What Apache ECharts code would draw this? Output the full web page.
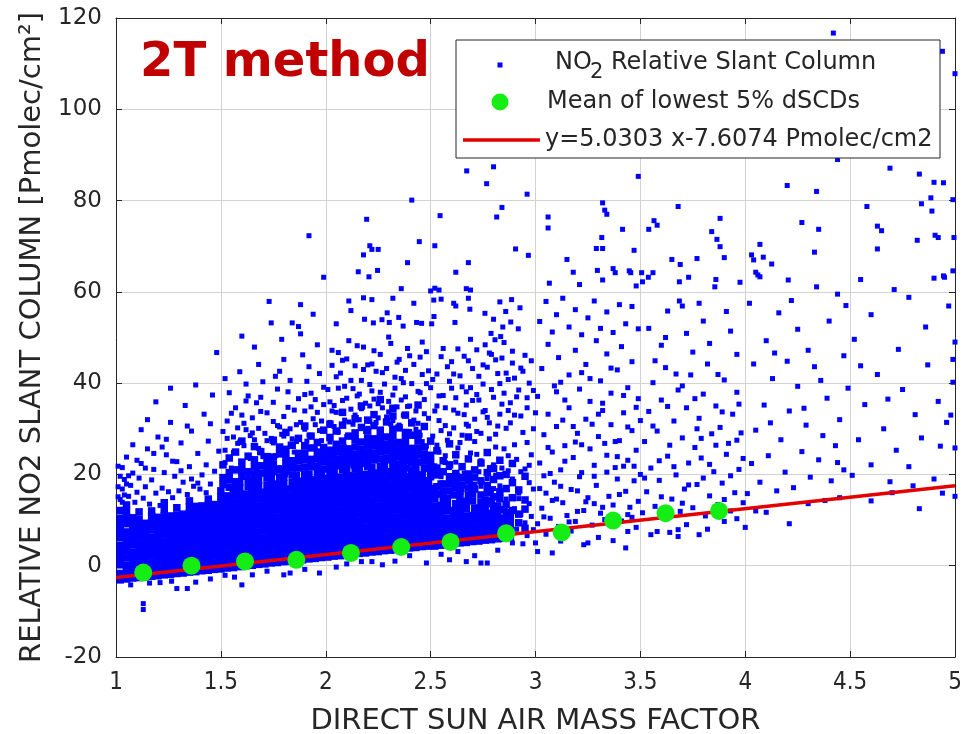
<!DOCTYPE html>
<html>
<head>
<meta charset="utf-8">
<script src="https://cdn.jsdelivr.net/npm/echarts@6/dist/echarts.min.js"></script>
<style>html,body{margin:0;padding:0;background:#fff}#c{width:963px;height:734px}</style>
</head>
<body>
<div id="c"></div>
<script>
// ---------- axis ticks ----------
const xTicks = [1, 1.5, 2, 2.5, 3, 3.5, 4, 4.5, 5];
const yTicks = [-20, 0, 20, 40, 60, 80, 100, 120];

// ---------- legend / series names ----------
const nameScatter = 'NO2 Relative Slant Column';
const nameMean = 'Mean of lowest 5% dSCDs';
const nameFit = 'y=5.0303 x-7.6074 Pmolec/cm2';

// ---------- mean of lowest 5% dSCDs (green) ----------
const meanAmf = [1.13, 1.36, 1.615, 1.86, 2.12, 2.36, 2.595, 2.86, 3.125, 3.37, 3.62, 3.875];
const meanScd = [-1.5, 0.0, 0.95, 1.3, 2.8, 4.1, 5.2, 7.1, 7.3, 9.9, 11.5, 12.0];

// ---------- fitted line end points (red) ----------
const fitAmf = [1, 5];
const fitScd = [-2.577, 17.544];

// ---------- dSCD scatter: densely packed core (solid blue area) ----------
const denseCore1 = [
[1.02,-3.1],[1.02,-1.7],[1.02,0.2],[1.02,1.6],[1.02,3.1],[1.02,4.4],[1.02,6.1],[1.02,7.5],[1.02,9.0],[1.02,10.4],[1.02,12.1],
[1.05,-2.9],[1.05,-1.4],[1.05,0.1],[1.05,1.7],[1.05,3.2],[1.05,4.7],[1.05,6.0],[1.05,7.4],[1.05,9.2],[1.05,10.6],[1.05,11.9],[1.05,13.3],
[1.08,-2.7],[1.08,-1.2],[1.08,0.3],[1.08,1.8],[1.08,3.0],[1.08,4.6],[1.08,6.2],[1.08,7.7],[1.08,9.1],[1.08,10.5],
[1.11,-2.6],[1.11,-1.0],[1.11,0.4],[1.11,1.9],[1.11,3.3],[1.11,4.8],[1.11,6.3],[1.11,7.5],[1.11,8.9],[1.11,10.2],[1.11,11.8],
[1.14,-2.4],[1.14,-0.9],[1.14,0.5],[1.14,2.0],[1.14,3.4],[1.14,4.9],[1.14,6.4],[1.14,7.8],[1.14,9.3],
[1.17,-2.3],[1.17,-0.8],[1.17,0.6],[1.17,2.1],[1.17,3.5],[1.17,5.0],[1.17,6.3],[1.17,7.9],[1.17,9.4],[1.17,10.8],[1.17,12.0],
[1.2,-2.2],[1.2,-0.7],[1.2,0.8],[1.2,2.2],[1.2,3.6],[1.2,5.1],[1.2,6.6],[1.2,8.0],[1.2,9.2],[1.2,10.6],
[1.23,-2.0],[1.23,-0.5],[1.23,0.9],[1.23,2.4],[1.23,3.8],[1.23,5.2],[1.23,6.7],[1.23,8.2],[1.23,9.6],[1.23,11.0],[1.23,12.4],[1.23,13.8],
[1.26,-1.9],[1.26,-0.4],[1.26,1.0],[1.26,2.5],[1.26,3.9],[1.26,5.3],[1.26,6.8],[1.26,8.1],[1.26,9.5],[1.26,10.9],
[1.29,-1.7],[1.29,-0.3],[1.29,1.2],[1.29,2.6],[1.29,4.0],[1.29,5.5],[1.29,7.0],[1.29,8.4],[1.29,9.8],[1.29,11.1],[1.29,12.7],
[1.32,-1.6],[1.32,-0.1],[1.32,1.3],[1.32,2.8],[1.32,4.2],[1.32,5.6],[1.32,7.1],[1.32,8.5],[1.32,9.9],[1.32,11.3],
[1.35,-1.4],[1.35,0.0],[1.35,1.5],[1.35,2.9],[1.35,4.3],[1.35,5.8],[1.35,7.2],[1.35,8.6],[1.35,10.0],[1.35,11.5],[1.35,12.9],[1.35,14.2],
[1.38,-1.3],[1.38,0.2],[1.38,1.6],[1.38,3.0],[1.38,4.5],[1.38,5.9],[1.38,7.3],[1.38,8.8],[1.38,10.2],[1.38,11.6],[1.38,13.0],
[1.41,-1.1],[1.41,0.3],[1.41,1.8],[1.41,3.2],[1.41,4.6],[1.41,6.1],[1.41,7.5],[1.41,8.9],[1.41,10.3],[1.41,11.8],[1.41,13.1],
[1.44,-1.0],[1.44,0.5],[1.44,1.9],[1.44,3.3],[1.44,4.8],[1.44,6.2],[1.44,7.6],[1.44,9.0],[1.44,10.5],[1.44,11.9],[1.44,13.3],[1.44,14.6],
[1.47,-0.8],[1.47,0.6],[1.47,2.1],[1.47,3.5],[1.47,4.9],[1.47,6.4],[1.47,7.8],[1.47,9.2],[1.47,10.6],[1.47,12.1],[1.47,13.4]
];
const denseCore2 = [
[1.5,-0.7],[1.5,0.8],[1.5,2.2],[1.5,3.7],[1.5,5.1],[1.5,6.6],[1.5,8.0],[1.5,9.5],[1.5,10.9],[1.5,12.3],[1.5,13.8],[1.5,15.2],[1.5,16.4],
[1.53,-0.5],[1.53,1.0],[1.53,2.4],[1.53,3.8],[1.53,5.3],[1.53,6.7],[1.53,8.1],[1.53,9.6],[1.53,11.0],[1.53,12.5],[1.53,13.9],[1.53,15.3],
[1.56,-0.4],[1.56,1.1],[1.56,2.5],[1.56,4.0],[1.56,5.4],[1.56,6.9],[1.56,8.3],[1.56,9.7],[1.56,11.2],[1.56,12.6],[1.56,14.0],[1.56,15.5],[1.56,16.9],
[1.59,-0.2],[1.59,1.2],[1.59,2.7],[1.59,4.1],[1.59,5.5],[1.59,7.0],[1.59,8.4],[1.59,9.9],[1.59,11.3],[1.59,12.7],[1.59,14.1],[1.59,15.6],[1.59,17.0],[1.59,18.3],
[1.62,0.0],[1.62,1.4],[1.62,2.8],[1.62,4.3],[1.62,5.7],[1.62,7.1],[1.62,8.6],[1.62,10.0],[1.62,11.4],[1.62,12.9],[1.62,14.3],[1.62,15.7],
[1.65,0.1],[1.65,1.5],[1.65,3.0],[1.65,4.4],[1.65,5.8],[1.65,7.3],[1.65,8.7],[1.65,10.1],[1.65,11.6],[1.65,13.0],[1.65,14.5],[1.65,15.9],[1.65,17.2],
[1.68,0.3],[1.68,1.7],[1.68,3.1],[1.68,4.6],[1.68,6.0],[1.68,7.4],[1.68,8.9],[1.68,10.3],[1.68,11.7],[1.68,13.1],[1.68,14.6],[1.68,16.0],[1.68,17.5],[1.68,18.8],
[1.71,0.4],[1.71,1.8],[1.71,3.3],[1.71,4.7],[1.71,6.1],[1.71,7.6],[1.71,9.0],[1.71,10.4],[1.71,11.9],[1.71,13.3],[1.71,14.7],[1.71,16.1],
[1.74,0.6],[1.74,2.0],[1.74,3.4],[1.74,4.9],[1.74,6.3],[1.74,7.7],[1.74,9.2],[1.74,10.6],[1.74,12.0],[1.74,13.4],[1.74,14.9],[1.74,16.3],[1.74,17.7],[1.74,19.1],
[1.77,0.7],[1.77,2.1],[1.77,3.6],[1.77,5.0],[1.77,6.4],[1.77,7.9],[1.77,9.3],[1.77,10.7],[1.77,12.2],[1.77,13.6],[1.77,15.0],[1.77,16.5],[1.77,17.9],
[1.8,0.9],[1.8,2.3],[1.8,3.7],[1.8,5.2],[1.8,6.6],[1.8,8.0],[1.8,9.5],[1.8,10.9],[1.8,12.3],[1.8,13.7],[1.8,15.2],[1.8,16.6],[1.8,18.0],[1.8,19.4],
[1.83,1.0],[1.83,2.4],[1.83,3.9],[1.83,5.3],[1.83,6.7],[1.83,8.2],[1.83,9.6],[1.83,11.0],[1.83,12.5],[1.83,13.9],[1.83,15.3],[1.83,16.8],
[1.86,1.2],[1.86,2.6],[1.86,4.0],[1.86,5.4],[1.86,6.9],[1.86,8.3],[1.86,9.8],[1.86,11.2],[1.86,12.6],[1.86,14.0],[1.86,15.5],[1.86,16.9],[1.86,18.3],[1.86,19.8],
[1.89,1.3],[1.89,2.7],[1.89,4.2],[1.89,5.6],[1.89,7.0],[1.89,8.5],[1.89,9.9],[1.89,11.3],[1.89,12.8],[1.89,14.2],[1.89,15.6],[1.89,17.0],[1.89,18.5],
[1.92,1.5],[1.92,2.9],[1.92,4.3],[1.92,5.7],[1.92,7.2],[1.92,8.6],[1.92,10.0],[1.92,11.5],[1.92,12.9],[1.92,14.3],[1.92,15.8],[1.92,17.2],[1.92,18.6],[1.92,20.1],
[1.95,1.6],[1.95,3.0],[1.95,4.5],[1.95,5.9],[1.95,7.3],[1.95,8.8],[1.95,10.2],[1.95,11.6],[1.95,13.1],[1.95,14.5],[1.95,15.9],[1.95,17.4],[1.95,18.8],
[1.98,1.8],[1.98,3.2],[1.98,4.6],[1.98,6.0],[1.98,7.5],[1.98,8.9],[1.98,10.3],[1.98,11.8],[1.98,13.2],[1.98,14.6],[1.98,16.1],[1.98,17.5],[1.98,18.9],[1.98,20.4]
];
const denseCore3 = [
[2.01,1.9],[2.01,3.3],[2.01,4.8],[2.01,6.2],[2.01,7.6],[2.01,9.1],[2.01,10.5],[2.01,11.9],[2.01,13.4],[2.01,14.8],[2.01,16.2],[2.01,17.7],[2.01,19.1],
[2.04,2.1],[2.04,3.5],[2.04,4.9],[2.04,6.4],[2.04,7.8],[2.04,9.2],[2.04,10.7],[2.04,12.1],[2.04,13.5],[2.04,15.0],[2.04,16.4],[2.04,17.8],[2.04,19.3],[2.04,20.6],[2.04,22.3],
[2.07,2.2],[2.07,3.6],[2.07,5.1],[2.07,6.5],[2.07,7.9],[2.07,9.4],[2.07,10.8],[2.07,12.2],[2.07,13.7],[2.07,15.1],[2.07,16.5],[2.07,18.0],[2.07,19.4],
[2.1,2.4],[2.1,3.8],[2.1,5.2],[2.1,6.7],[2.1,8.1],[2.1,9.5],[2.1,11.0],[2.1,12.4],[2.1,13.8],[2.1,15.3],[2.1,16.7],[2.1,18.1],[2.1,19.6],[2.1,21.0],[2.1,23.6],
[2.13,2.5],[2.13,3.9],[2.13,5.4],[2.13,6.8],[2.13,8.2],[2.13,9.7],[2.13,11.1],[2.13,12.5],[2.13,14.0],[2.13,15.4],[2.13,16.8],[2.13,18.3],[2.13,19.7],
[2.16,2.7],[2.16,4.1],[2.16,5.5],[2.16,7.0],[2.16,8.4],[2.16,9.8],[2.16,11.3],[2.16,12.7],[2.16,14.1],[2.16,15.6],[2.16,17.0],[2.16,18.4],[2.16,19.9],[2.16,21.3],[2.16,22.8],
[2.19,2.8],[2.19,4.2],[2.19,5.7],[2.19,7.1],[2.19,8.5],[2.19,10.0],[2.19,11.4],[2.19,12.8],[2.19,14.3],[2.19,15.7],[2.19,17.1],[2.19,18.6],[2.19,20.0],
[2.22,3.0],[2.22,4.4],[2.22,5.8],[2.22,7.3],[2.22,8.7],[2.22,10.1],[2.22,11.6],[2.22,13.0],[2.22,14.4],[2.22,15.9],[2.22,17.3],[2.22,18.7],[2.22,20.2],[2.22,21.6],[2.22,24.1],
[2.25,3.1],[2.25,4.5],[2.25,6.0],[2.25,7.4],[2.25,8.8],[2.25,10.3],[2.25,11.7],[2.25,13.1],[2.25,14.6],[2.25,16.0],[2.25,17.4],[2.25,18.9],[2.25,20.3],
[2.28,3.3],[2.28,4.7],[2.28,6.1],[2.28,7.6],[2.28,9.0],[2.28,10.4],[2.28,11.9],[2.28,13.3],[2.28,14.7],[2.28,16.2],[2.28,17.6],[2.28,19.0],[2.28,20.5],[2.28,21.9],
[2.31,3.4],[2.31,4.8],[2.31,6.3],[2.31,7.7],[2.31,9.1],[2.31,10.6],[2.31,12.0],[2.31,13.4],[2.31,14.9],[2.31,16.3],[2.31,17.7],[2.31,19.2],[2.31,20.6],[2.31,23.2],
[2.34,3.6],[2.34,5.0],[2.34,6.4],[2.34,7.9],[2.34,9.3],[2.34,10.7],[2.34,12.2],[2.34,13.6],[2.34,15.0],[2.34,16.5],[2.34,17.9],[2.34,19.3],[2.34,20.8],
[2.37,3.7],[2.37,5.1],[2.37,6.6],[2.37,8.0],[2.37,9.4],[2.37,10.9],[2.37,12.3],[2.37,13.7],[2.37,15.2],[2.37,16.6],[2.37,18.0],[2.37,19.5],[2.37,20.9],[2.37,22.4],
[2.4,3.9],[2.4,5.3],[2.4,6.7],[2.4,8.2],[2.4,9.6],[2.4,11.0],[2.4,12.5],[2.4,13.9],[2.4,15.3],[2.4,16.8],[2.4,18.2],[2.4,19.6],
[2.43,4.0],[2.43,5.4],[2.43,6.9],[2.43,8.3],[2.43,9.7],[2.43,11.2],[2.43,12.6],[2.43,14.0],[2.43,15.5],[2.43,16.9],[2.43,18.3],[2.43,19.8],[2.43,21.2],
[2.46,4.2],[2.46,5.6],[2.46,7.0],[2.46,8.5],[2.46,9.9],[2.46,11.3],[2.46,12.8],[2.46,14.2],[2.46,15.6],[2.46,17.1],[2.46,18.5],[2.46,19.9],
[2.49,4.3],[2.49,5.7],[2.49,7.2],[2.49,8.6],[2.49,10.0],[2.49,11.5],[2.49,12.9],[2.49,14.3],[2.49,15.8],[2.49,17.2],[2.49,18.6]
];
const denseCore4 = [
[2.52,4.3],[2.52,5.8],[2.52,7.2],[2.52,8.6],[2.52,10.1],[2.52,11.5],[2.52,13.0],[2.52,14.6],[2.52,16.0],
[2.55,4.5],[2.55,6.0],[2.55,7.4],[2.55,8.9],[2.55,10.3],[2.55,11.8],[2.55,13.2],[2.55,17.9],
[2.58,4.6],[2.58,6.1],[2.58,7.5],[2.58,9.0],[2.58,10.4],[2.58,12.0],[2.58,13.3],[2.58,14.8],
[2.61,4.8],[2.61,6.3],[2.61,7.7],[2.61,9.2],[2.61,10.6],[2.61,12.1],[2.61,15.5],
[2.64,5.0],[2.64,6.4],[2.64,7.8],[2.64,9.3],[2.64,10.8],[2.64,12.2],[2.64,13.7],[2.64,15.1],[2.64,16.4],
[2.67,5.1],[2.67,6.6],[2.67,8.0],[2.67,9.4],[2.67,10.9],[2.67,12.5],[2.67,13.9],
[2.7,5.3],[2.7,6.7],[2.7,8.1],[2.7,9.6],[2.7,11.0],[2.7,14.2],[2.7,15.8],
[2.73,5.4],[2.73,6.9],[2.73,8.3],[2.73,9.8],[2.73,11.2],[2.73,12.6],
[2.76,5.6],[2.76,7.0],[2.76,8.4],[2.76,9.9],[2.76,11.4],[2.76,12.9],[2.76,14.4],
[2.79,5.7],[2.79,7.2],[2.79,8.6],[2.79,10.1],[2.79,11.5],[2.79,13.6],
[2.82,5.9],[2.82,7.3],[2.82,8.8],[2.82,10.2],[2.82,11.7],[2.82,13.1],
[2.85,6.0],[2.85,7.5],[2.85,8.9],[2.85,10.4],[2.85,12.3],
[2.88,6.2],[2.88,7.6],[2.88,9.1],[2.88,10.5]
];
// ---------- dSCD scatter: busy band above the core (with holes) ----------
const denseUpper = [
[1.51,17.8],[1.51,19.3],[1.51,22.1],[1.54,17.2],[1.54,18.8],[1.54,20.4],[1.54,23.6],[1.57,18.4],[1.57,21.0],[1.57,24.9],
[1.6,19.6],[1.6,21.1],[1.6,22.7],[1.6,27.3],[1.63,17.3],[1.63,18.9],[1.63,20.6],[1.63,24.0],[1.66,18.6],[1.66,20.1],
[1.66,21.7],[1.66,23.2],[1.66,26.1],[1.69,20.3],[1.69,21.9],[1.69,25.0],[1.72,17.6],[1.72,19.2],[1.72,20.8],[1.72,22.4],
[1.72,23.9],[1.75,20.6],[1.75,22.2],[1.75,23.8],[1.75,27.5],[1.78,19.4],[1.78,21.0],[1.78,24.5],[1.78,26.0],[1.81,20.8],
[1.81,22.4],[1.81,23.9],[1.81,25.5],[1.81,29.2],[1.84,18.3],[1.84,19.9],[1.84,21.5],[1.84,23.0],[1.84,26.4],[1.87,21.4],
[1.87,23.0],[1.87,24.6],[1.87,27.9],[1.9,20.0],[1.9,21.6],[1.9,23.2],[1.9,24.7],[1.9,26.3],[1.9,30.6],[1.93,21.7],
[1.93,23.3],[1.93,25.8],[1.93,28.4],[1.96,20.3],[1.96,21.8],[1.96,23.4],[1.96,24.9],[1.96,27.0],[1.99,21.2],[1.99,22.8],
[1.99,24.3],[1.99,25.9],[1.99,29.7],
[2.02,20.6],[2.02,22.2],[2.02,23.8],[2.02,25.3],[2.02,28.1],[2.02,31.0],[2.05,21.9],[2.05,23.4],[2.05,25.0],[2.05,26.6],
[2.05,29.5],[2.08,21.0],[2.08,22.6],[2.08,24.1],[2.08,25.7],[2.08,27.3],[2.08,30.8],[2.08,33.6],[2.11,22.5],[2.11,24.1],
[2.11,25.6],[2.11,28.4],[2.14,21.3],[2.14,22.9],[2.14,24.4],[2.14,26.0],[2.14,27.6],[2.14,29.1],[2.14,32.2],[2.17,22.4],
[2.17,24.0],[2.17,25.5],[2.17,27.1],[2.17,30.3],[2.17,35.0],[2.2,21.7],[2.2,23.3],[2.2,24.8],[2.2,26.4],[2.2,27.9],
[2.2,29.5],[2.2,31.9],[2.23,23.2],[2.23,24.7],[2.23,26.3],[2.23,27.8],[2.23,30.7],[2.23,33.1],[2.26,21.8],[2.26,23.4],
[2.26,25.0],[2.26,26.6],[2.26,28.1],[2.26,29.7],[2.26,36.4],[2.29,23.5],[2.29,25.1],[2.29,26.6],[2.29,28.2],[2.29,31.5],
[2.32,22.1],[2.32,23.7],[2.32,25.2],[2.32,26.8],[2.32,28.4],[2.32,29.9],[2.32,32.8],[2.32,34.5],[2.35,22.3],[2.35,23.9],
[2.35,25.4],[2.35,27.0],[2.35,30.2],[2.38,21.4],[2.38,23.0],[2.38,24.6],[2.38,26.1],[2.38,27.7],[2.38,29.2],[2.38,33.0],
[2.41,21.0],[2.41,22.6],[2.41,24.1],[2.41,25.7],[2.41,28.6],[2.41,31.3],[2.44,22.7],[2.44,24.3],[2.44,25.8],[2.44,27.4],
[2.44,29.0],[2.44,35.2],[2.47,21.3],[2.47,22.9],[2.47,24.4],[2.47,26.0],[2.47,30.5],[2.5,19.5],[2.5,21.1],[2.5,22.6],
[2.5,24.2],[2.5,27.3],
[2.53,15.7],[2.53,17.3],[2.53,19.9],[2.53,21.4],[2.53,25.2],[2.56,14.7],[2.56,16.3],[2.56,17.9],[2.56,20.6],[2.56,23.0],
[2.59,16.4],[2.59,18.0],[2.59,19.5],[2.59,22.1],[2.59,26.7],[2.62,13.6],[2.62,17.1],[2.62,18.7],[2.62,20.2],[2.62,24.3],
[2.65,14.1],[2.65,17.7],[2.65,19.3],[2.65,21.7],[2.68,15.4],[2.68,17.0],[2.68,18.6],[2.68,20.1],[2.68,23.4],[2.68,28.2],
[2.71,12.6],[2.71,16.8],[2.71,19.4],[2.71,21.0],[2.74,13.9],[2.74,15.5],[2.74,18.6],[2.74,22.5],[2.77,14.2],[2.77,16.0],
[2.77,17.6],[2.77,20.4],[2.77,24.8],[2.8,12.3],[2.8,15.1],[2.8,18.9],[2.8,21.3],[2.83,14.7],[2.83,16.2],[2.83,19.7],
[2.83,23.1],[2.86,11.6],[2.86,13.4],[2.86,16.9],[2.86,20.0],[2.89,12.1],[2.89,14.9],[2.89,18.2],[2.89,22.4],[2.92,9.4],
[2.92,11.3],[2.92,16.6],[2.95,8.2],[2.95,12.4],[2.95,14.4],[2.95,19.6]
];

// ---------- dSCD scatter: individual points ----------
const belowFit = [
[1.13,-8.3],[1.13,-9.6],[1.29,-5.0],[1.34,-5.0],[1.21,-3.7],[1.265,-3.4],[1.07,-4.2],[1.16,-3.8],[1.38,-3.6],[1.45,-2.9],
[1.52,-2.1],[1.565,-2.5],[1.6,-4.2],[1.65,-2.0],[1.72,-1.2],[1.8,-2.0],[1.83,-1.6],[1.9,-0.8],[1.97,-1.6],
[2.05,-0.3],[2.1,0.4],[2.17,0.9],[2.22,0.9],[2.27,0.2],[2.33,1.0],[2.4,2.2],[2.48,0.6],
[2.59,1.3],[2.67,0.9],[2.74,0.6],[2.77,0.6],[2.55,2.5],[2.63,3.1],[2.71,2.2],[2.82,3.4],[2.89,5.0],[2.94,4.8]
];
const spread1 = [
[1.02,14.5],[1.03,16.8],[1.04,18.9],[1.03,21.5],[1.05,23.8],[1.06,15.2],[1.07,17.6],[1.08,20.3],[1.09,13.9],[1.1,16.1],
[1.11,19.2],[1.12,22.4],[1.13,14.8],[1.14,17.3],[1.15,25.6],[1.16,13.5],[1.17,18.8],[1.18,21.1],[1.19,15.9],[1.2,28.2],
[1.21,13.2],[1.22,17.0],[1.23,20.4],[1.24,24.3],[1.25,16.2],[1.26,31.4],[1.27,14.9],[1.28,19.6],[1.29,22.8],[1.3,16.4],
[1.31,26.9],[1.32,18.3],[1.33,35.1],[1.34,15.6],[1.35,21.7],[1.36,29.5],[1.37,17.4],[1.38,39.6],[1.39,24.6],[1.4,16.8],
[1.41,19.9],[1.42,33.2],[1.43,22.1],[1.44,27.3],[1.45,17.9],[1.46,37.4],[1.47,20.7],[1.48,46.7],[1.49,25.1],[1.26,38.9],
[1.15,32.0],[1.08,26.5],[1.12,29.8],[1.19,35.9],[1.24,27.7],[1.34,30.6],[1.52,41.0],[1.45,31.1],
[1.1,23.1],[1.18,24.6],[1.27,22.9],[1.36,19.0],[1.43,16.0],[1.06,19.7],[1.14,21.4],[1.22,26.0],[1.31,20.8],[1.39,18.1],
[1.01,15.1],[1.01,17.3],[1.02,19.6],[1.01,21.8],[1.04,15.5],[1.05,17.9],[1.03,13.9]
];
const spread2 = [
[1.51,18.1],[1.52,22.6],[1.53,27.9],[1.54,19.7],[1.55,33.4],[1.56,24.8],[1.57,20.9],[1.58,30.2],[1.59,42.5],[1.6,21.6],
[1.61,26.3],[1.62,36.1],[1.63,19.4],[1.64,23.5],[1.65,29.1],[1.66,47.9],[1.67,21.2],[1.68,25.7],[1.69,33.8],[1.7,40.3],
[1.71,20.2],[1.72,27.4],[1.73,57.9],[1.74,53.2],[1.74,22.8],[1.75,31.6],[1.76,24.1],[1.77,38.7],[1.78,21.5],[1.79,28.8],
[1.8,45.2],[1.81,23.3],[1.82,34.7],[1.83,26.6],[1.84,53.2],[1.85,21.9],[1.86,30.9],[1.87,52.4],[1.88,57.2],[1.88,50.8],
[1.89,24.4],[1.9,37.5],[1.91,27.3],[1.92,72.3],[1.92,43.6],[1.93,22.7],[1.94,32.2],[1.95,25.9],[1.96,48.4],[1.97,29.6],
[1.98,23.6],[1.99,63.2],[1.99,39.1],
[1.52,25.3],[1.55,21.4],[1.58,26.8],[1.61,31.2],[1.64,28.5],[1.67,35.7],[1.7,23.9],[1.72,19.8],[1.75,26.9],[1.78,30.4],
[1.81,19.9],[1.84,27.8],[1.87,23.1],[1.9,29.9],[1.93,34.8],[1.96,21.8],[1.98,31.7],[1.54,37.9],[1.62,39.8],[1.68,44.1],
[1.76,41.5],[1.83,40.6],[1.89,46.2],[1.95,36.4],[1.6,50.3],[1.79,49.6],[1.94,55.1],[1.57,17.8],[1.66,19.0],[1.73,21.0],
[1.79,20.8],[1.85,24.9],[1.91,21.6],[1.97,22.9],
[1.51,29.4],[1.53,31.7],[1.56,28.2],[1.57,34.6],[1.59,27.1],[1.6,33.0],[1.62,29.8],[1.63,37.2],[1.65,32.4],[1.66,27.6],
[1.68,30.1],[1.69,36.9],[1.71,29.0],[1.72,33.5],[1.74,27.9],[1.75,35.8],[1.77,30.7],[1.78,42.6],[1.8,28.4],[1.8,32.7],
[1.82,38.1],[1.83,30.0],[1.85,34.1],[1.86,27.2],[1.87,36.6],[1.88,31.4],[1.9,33.9],[1.91,40.4],[1.92,28.6],[1.93,37.8],
[1.95,30.9],[1.96,33.6],[1.97,42.1],[1.98,27.4],[1.99,35.3]
];
const spread3 = [
[2.05,53.0],[2.11,58.0],[2.12,55.9],[2.155,64.4],[2.18,68.1],[2.18,58.7],[2.185,54.0],[2.195,75.9],[2.206,63.3],[2.21,70.1],
[2.22,69.3],[2.22,58.3],[2.227,53.2],[2.247,64.7],[2.25,69.3],[2.268,53.9],[2.293,55.4],[2.303,53.3],[2.32,58.6],[2.348,54.4],
[2.36,60.7],[2.369,52.5],[2.39,66.4],[2.41,80.1],[2.42,57.5],[2.433,53.3],[2.446,71.0],[2.457,53.1],
[2.01,22.6],[2.02,27.1],[2.03,33.9],[2.04,24.2],[2.05,41.4],[2.06,29.3],[2.07,21.8],[2.08,36.2],[2.09,26.0],[2.1,45.3],
[2.11,31.5],[2.12,23.4],[2.13,38.8],[2.14,28.1],[2.15,48.2],[2.16,25.2],[2.17,34.4],[2.18,43.0],[2.19,22.5],[2.2,30.1],
[2.21,39.7],[2.22,26.7],[2.23,47.1],[2.24,24.0],[2.25,35.5],[2.26,29.0],[2.27,42.3],[2.28,23.1],[2.29,32.6],[2.3,50.1],
[2.31,27.5],[2.32,37.4],[2.33,24.9],[2.34,44.6],[2.35,30.8],[2.36,22.9],[2.37,40.1],[2.38,27.9],[2.39,34.9],[2.4,46.0],
[2.41,25.6],[2.42,31.9],[2.43,23.8],[2.44,38.2],[2.45,28.6],[2.46,49.0],[2.47,33.3],[2.48,26.2],[2.49,42.7],
[2.02,35.9],[2.04,30.5],[2.06,46.7],[2.08,24.6],[2.1,28.3],[2.12,40.6],[2.14,33.0],[2.16,37.6],[2.18,27.0],[2.2,23.6],
[2.22,44.2],[2.24,31.4],[2.26,38.0],[2.28,26.1],[2.3,33.7],[2.32,29.5],[2.34,25.4],[2.36,36.3],[2.38,42.8],[2.4,29.4],
[2.42,24.4],[2.44,35.1],[2.46,27.2],[2.48,39.9],[2.03,43.9],[2.09,39.3],[2.15,26.9],[2.21,35.0],[2.27,22.0],[2.33,41.3],
[2.39,23.0],[2.45,45.7],[2.06,25.0],[2.13,21.8],[2.19,29.4],[2.25,25.9],[2.31,31.0],[2.37,26.8],[2.43,29.9],[2.47,21.4],
[2.01,38.6],[2.02,31.4],[2.03,47.2],[2.04,35.1],[2.05,33.6],[2.06,38.9],[2.07,42.2],[2.08,45.0],[2.09,31.9],[2.1,36.7],
[2.11,49.3],[2.12,34.3],[2.13,31.0],[2.14,43.8],[2.15,37.2],[2.16,32.0],[2.17,40.6],[2.18,47.9],[2.19,35.6],[2.2,44.0],
[2.21,31.6],[2.22,38.3],[2.23,36.5],[2.24,42.6],[2.25,32.4],[2.26,46.3],[2.27,34.6],[2.28,39.8],[2.29,43.2],[2.3,36.0],
[2.31,48.7],[2.32,31.8],[2.33,38.9],[2.34,34.8],[2.35,45.2],[2.36,41.0],[2.37,33.0],[2.38,37.0],[2.39,47.6],[2.4,35.0],
[2.41,39.9],[2.42,44.1],[2.43,33.9],[2.44,31.2],[2.45,37.9],[2.46,41.9],[2.47,36.4],[2.48,46.9],[2.49,32.3],[2.5,39.0]
];
const spread4 = [
[2.516,54.6],[2.515,58.2],[2.52,70.1],[2.52,60.8],[2.54,60.4],[2.55,58.4],[2.545,76.7],[2.505,53.0],[2.5,60.2],[2.61,57.5],
[2.616,53.3],[2.62,64.3],[2.62,56.9],[2.672,86.5],[2.67,60.7],[2.68,66.4],[2.68,58.6],[2.687,56.2],[2.69,60.4],[2.759,55.3],
[2.767,83.7],[2.788,50.9],[2.8,87.4],[2.8,54.0],[2.807,49.5],[2.815,76.4],[2.83,57.8],[2.834,50.2],[2.84,78.5],[2.844,52.3],
[2.858,55.7],[2.882,53.4],[2.886,58.3],[2.905,69.4],[2.918,51.9],[2.926,56.5],[2.96,81.4],[2.966,68.0],
[2.51,17.2],[2.52,21.9],[2.53,26.4],[2.54,31.8],[2.55,19.5],[2.56,37.3],[2.57,24.1],[2.58,43.6],[2.59,28.9],[2.6,18.4],
[2.61,34.1],[2.62,22.7],[2.63,47.5],[2.64,27.0],[2.65,39.2],[2.66,20.3],[2.67,31.0],[2.68,44.9],[2.69,24.7],[2.7,36.2],
[2.71,17.9],[2.72,29.4],[2.73,41.5],[2.74,23.0],[2.75,33.7],[2.76,48.4],[2.77,19.1],[2.78,27.8],[2.79,38.6],[2.8,22.1],
[2.81,45.1],[2.82,30.6],[2.83,17.5],[2.84,35.4],[2.85,25.6],[2.86,42.2],[2.87,20.8],[2.88,31.3],[2.89,47.0],[2.9,26.5],
[2.91,37.0],[2.92,15.9],[2.93,43.3],[2.94,29.2],[2.95,21.2],[2.96,34.6],[2.97,40.0],[2.98,24.3],[2.99,30.0],
[2.51,40.8],[2.53,35.0],[2.55,45.8],[2.57,30.7],[2.59,21.5],[2.61,42.0],[2.63,25.8],[2.65,16.6],[2.67,38.1],[2.69,49.6],
[2.71,27.2],[2.73,20.6],[2.75,44.0],[2.77,32.5],[2.79,16.4],[2.81,26.0],[2.83,39.9],[2.85,48.9],[2.87,34.0],[2.89,19.0],
[2.91,23.3],[2.93,32.8],[2.95,46.1],[2.97,18.2],[2.99,38.4],[2.54,24.9],[2.6,38.9],[2.66,33.1],[2.72,37.5],[2.78,46.6],
[2.84,21.4],[2.9,41.1],[2.96,27.0],[2.91,8.0],[2.93,11.2],[2.95,9.4],[2.97,13.6],[2.99,7.9],[2.92,14.7],[2.96,6.6],
[2.98,10.8],[2.86,14.6],[2.8,16.9],[2.74,17.4],[2.9,12.5],
[2.51,28.4],[2.52,33.9],[2.53,42.0],[2.54,37.2],[2.55,29.6],[2.56,47.6],[2.57,34.6],[2.58,27.5],[2.59,40.4],[2.6,44.7],
[2.61,30.2],[2.62,36.8],[2.63,33.4],[2.64,41.6],[2.65,28.6],[2.66,45.9],[2.67,35.2],[2.68,30.6],[2.69,39.0],[2.7,43.2],
[2.71,32.1],[2.72,47.3],[2.73,36.3],[2.74,29.0],[2.75,39.8],[2.76,34.0],[2.77,43.5],[2.78,31.3],[2.79,46.3],[2.8,36.9],
[2.81,28.8],[2.82,42.1],[2.83,33.2],[2.84,45.5],[2.85,37.8],[2.86,30.1],[2.87,40.8],[2.88,35.7],[2.89,44.4],[2.9,33.0],
[2.92,38.5],[2.94,42.6],[2.96,36.8],[2.98,44.9],[3.0,33.5],
[2.51,12.9],[2.57,22.6],[2.63,19.8],[2.69,18.0],[2.72,24.4],[2.78,21.5],[2.81,19.8],[2.87,24.1],[2.93,20.6],[2.97,22.0],[2.99,16.8]
];
const spread5 = [
[3.01,3.1],[3.08,2.8],[3.0,5.0],[3.23,4.6],[3.25,5.0],[3.37,5.5],[3.43,3.9],[3.44,7.5],[3.05,6.9],[3.12,5.4],[3.17,7.6],[3.3,6.2],[3.48,8.4],
[3.01,9.2],[3.03,12.6],[3.05,15.9],[3.07,10.4],[3.09,18.3],[3.11,8.6],[3.13,13.8],[3.15,11.0],[3.17,16.7],[3.19,9.7],
[3.21,19.5],[3.23,12.1],[3.25,14.9],[3.27,8.9],[3.29,17.6],[3.31,11.5],[3.33,10.1],[3.35,15.2],[3.37,13.3],[3.39,19.0],
[3.41,9.8],[3.43,16.3],[3.45,12.8],[3.47,18.6],[3.49,14.1],[3.04,19.7],[3.1,14.6],[3.2,11.9],[3.28,13.6],[3.36,9.2],[3.44,11.2],
[3.02,22.5],[3.04,28.7],[3.06,33.2],[3.08,24.9],[3.1,30.5],[3.12,21.0],[3.14,26.3],[3.16,34.6],[3.18,23.7],[3.2,29.0],
[3.22,20.4],[3.24,32.1],[3.26,25.6],[3.28,22.0],[3.3,28.3],[3.32,34.0],[3.34,24.2],[3.36,30.9],[3.38,21.5],[3.4,27.4],
[3.42,33.5],[3.44,23.1],[3.46,29.6],[3.48,25.3],[3.5,31.8],[3.07,20.2],[3.13,31.9],[3.19,27.1],[3.27,31.0],[3.33,26.8],
[3.39,23.9],[3.47,21.8],
[3.01,37.1],[3.03,43.2],[3.06,48.5],[3.09,39.4],[3.11,45.6],[3.14,36.3],[3.16,41.8],[3.19,47.2],[3.21,38.7],[3.24,44.1],
[3.26,36.0],[3.29,49.3],[3.31,40.5],[3.34,46.4],[3.36,37.8],[3.39,42.9],[3.41,48.0],[3.44,39.0],[3.46,44.7],[3.49,36.6],
[3.12,40.2],[3.22,42.3],[3.32,35.6],[3.42,37.3],
[3.06,76.4],[3.06,74.0],[3.066,61.9],[3.15,67.1],[3.18,64.3],[3.21,61.6],[3.29,69.5],[3.295,64.7],[3.316,71.9],[3.32,79.5],
[3.33,77.9],[3.34,77.0],[3.32,69.5],[3.32,62.6],[3.37,65.1],[3.38,64.2],[3.415,73.7],[3.447,64.6],[3.454,64.2],[3.47,69.1],
[3.48,61.3],[3.49,85.3],
[3.02,53.5],[3.05,57.9],[3.08,51.2],[3.1,55.0],[3.13,58.6],[3.16,52.3],[3.19,56.1],[3.22,50.6],[3.25,54.3],[3.28,58.0],
[3.31,52.0],[3.34,55.6],[3.37,51.1],[3.4,57.2],[3.43,53.0],[3.46,56.8],[3.49,51.9],
[3.02,16.9],[3.04,10.7],[3.06,25.9],[3.08,14.3],[3.1,38.1],[3.12,17.4],[3.14,22.9],[3.16,9.6],[3.18,30.5],[3.2,16.4],
[3.22,26.5],[3.24,14.0],[3.26,41.0],[3.28,19.6],[3.3,33.2],[3.32,12.8],[3.34,20.5],[3.36,43.3],[3.38,27.2],[3.4,15.6],
[3.42,21.8],[3.44,30.4],[3.46,10.6],[3.48,34.7],[3.5,20.0]
];
const spread6 = [
[3.58,7.5],[3.64,7.3],[3.68,6.4],[3.68,7.9],[3.78,6.8],[3.82,8.0],[3.55,6.8],[3.72,9.0],[3.9,9.7],[3.96,10.3],
[3.51,11.6],[3.53,16.2],[3.55,21.4],[3.57,13.0],[3.59,18.7],[3.61,10.5],[3.63,24.0],[3.65,14.6],[3.67,19.9],[3.69,11.9],
[3.71,16.8],[3.73,22.5],[3.75,12.7],[3.77,17.8],[3.79,23.6],[3.81,10.9],[3.83,15.3],[3.85,20.6],[3.87,13.4],[3.89,18.1],
[3.91,24.4],[3.93,12.0],[3.95,16.0],[3.97,21.1],[3.99,13.8],[3.6,15.1],[3.7,13.7],[3.8,19.2],[3.9,14.5],
[3.52,27.2],[3.54,33.8],[3.56,40.1],[3.58,29.5],[3.6,36.3],[3.62,43.4],[3.64,26.4],[3.66,31.7],[3.68,38.5],[3.7,28.0],
[3.72,34.6],[3.74,41.8],[3.76,25.9],[3.78,32.3],[3.8,37.6],[3.82,44.2],[3.84,28.9],[3.86,35.0],[3.88,30.3],[3.9,40.7],
[3.92,26.8],[3.94,33.2],[3.96,38.0],[3.98,29.1],[3.57,44.9],[3.67,42.0],[3.77,30.0],[3.87,41.9],[3.97,35.4],
[3.54,52.0],[3.565,75.6],[3.58,74.6],[3.54,73.7],[3.506,64.2],[3.538,63.2],[3.56,64.2],[3.51,62.2],[3.65,67.1],[3.69,66.0],
[3.686,58.0],[3.73,63.2],[3.686,62.2],[3.68,78.7],[3.77,67.3],[3.84,73.2],[3.865,71.5],[3.88,69.9],[3.88,76.1],[3.86,62.7],
[3.855,61.1],[3.9,67.5],[3.975,62.1],[3.6,48.3],[3.63,55.8],[3.72,50.9],[3.75,46.8],[3.8,53.6],[3.83,48.7],[3.93,51.4],
[3.96,46.3],[3.62,50.0],[3.7,56.9],[3.78,57.5],[3.91,55.7],
[3.52,19.2],[3.56,30.6],[3.59,23.0],[3.63,34.9],[3.66,21.7],[3.7,39.4],[3.73,17.7],[3.76,36.6],[3.79,27.9],[3.83,22.2],
[3.86,26.4],[3.89,33.7],[3.93,19.7],[3.96,27.5],[3.99,23.5]
];
const spread7 = [
[4.0,8.4],[4.1,11.7],[4.21,9.2],[4.05,12.0],[4.3,13.6],[4.38,14.3],[4.45,14.9],
[4.01,15.8],[4.03,22.4],[4.05,29.7],[4.07,18.3],[4.09,35.2],[4.11,24.1],[4.13,41.0],[4.15,16.4],[4.17,27.6],[4.19,20.5],
[4.21,33.9],[4.23,17.1],[4.25,39.3],[4.27,25.0],[4.29,30.8],[4.31,19.4],[4.33,43.6],[4.35,23.2],[4.37,28.5],[4.39,36.7],
[4.41,18.6],[4.43,26.3],[4.45,32.0],[4.47,21.0],[4.49,38.9],[4.04,44.2],[4.12,31.3],[4.2,44.8],[4.28,34.5],[4.36,40.6],[4.44,22.6],
[4.03,68.1],[4.04,67.0],[4.07,70.4],[4.086,67.6],[4.126,66.1],[4.05,64.3],[4.07,63.3],[4.06,63.7],[4.205,62.6],[4.2,83.3],
[4.27,75.2],[4.34,82.0],[4.35,73.7],[4.33,68.7],[4.34,61.1],[4.44,59.5],[4.44,89.0],[4.42,116.7],[4.1,49.3],[4.16,55.4],
[4.25,51.8],[4.3,47.2],[4.4,53.6],[4.47,46.0],[4.02,57.5],[4.14,46.6],[4.22,58.1],[4.48,57.0]
];
const spread8 = [
[4.83,12.5],[4.94,15.9],[5.0,15.2],[4.6,14.2],[4.7,16.0],
[4.51,19.8],[4.54,27.6],[4.57,35.3],[4.6,22.1],[4.63,41.9],[4.66,30.0],[4.69,18.4],[4.72,25.3],[4.75,38.6],[4.78,21.7],
[4.81,33.1],[4.84,28.0],[4.87,44.0],[4.9,19.0],[4.93,26.2],[4.96,31.4],[4.99,40.2],[4.55,43.8],[4.68,36.5],[4.8,17.5],
[4.92,36.0],[5.0,25.8],[4.98,33.0],
[4.58,78.7],[4.69,87.1],[4.83,85.8],[4.9,84.0],[4.945,83.9],[4.99,80.2],[4.84,79.3],[4.885,80.6],[4.89,77.7],[4.63,74.4],
[4.65,73.4],[4.63,69.4],[4.82,71.3],[4.905,72.4],[4.92,71.9],[4.995,71.9],[4.9,63.0],[4.945,63.5],[4.95,63.2],[4.99,64.6],
[4.94,112.7],[5.0,107.8],[4.52,49.6],[4.6,55.0],[4.73,47.4],[4.78,58.8],[4.86,52.3],[4.97,56.9],[4.99,45.2],[4.55,62.7],
[4.71,60.5],[5.0,49.0]
];

const coreData = [].concat(denseCore1, denseCore2, denseCore3, denseCore4, denseUpper);
const spreadData = [].concat(belowFit, spread1, spread2, spread3, spread4, spread5, spread6, spread7, spread8);
const meanData = meanAmf.map((x, i) => [x, meanScd[i]]);
const fitData = fitAmf.map((x, i) => [x, fitScd[i]]);

const ink = '#262626';
const FONT = '"DejaVu Sans", Verdana, sans-serif';
const FONT_C = '"DejaVu Sans Condensed", "DejaVu Sans", sans-serif';
const BLUE = '#0000ff';
const GREEN = '#14ee14';
const RED = '#e50000';

const chart = echarts.init(document.getElementById('c'), null, {renderer: 'canvas'});
const boxAxis = (pos) => ({
  type: 'value', position: pos,
  axisLine: {show: true, onZero: false, lineStyle: {color: ink, width: 1}},
  axisTick: {show: true, inside: true, length: 6, lineStyle: {color: ink}},
  axisLabel: {show: false}, splitLine: {show: false}
});
const legendText = (x, y, text, size) => ({
  type: 'text', z: 16, x: x, y: y, silent: true,
  style: {text: text, fill: ink, fontSize: size || 24, fontFamily: FONT, verticalAlign: 'middle', align: 'left'}
});
chart.setOption({
  animation: false,
  backgroundColor: '#ffffff',
  grid: {left: 116, right: 8, top: 18, bottom: 77, show: false, containLabel: false, outerBoundsMode: 'none'},
  xAxis: [
    {
      type: 'value', min: xTicks[0], max: xTicks[xTicks.length - 1], interval: 0.5, position: 'bottom',
      axisLine: {show: true, onZero: false, lineStyle: {color: ink, width: 1}},
      axisTick: {show: true, inside: true, length: 6, lineStyle: {color: ink}},
      axisLabel: {fontSize: 24, color: ink, margin: 14, fontFamily: FONT_C},
      splitLine: {show: true, lineStyle: {color: '#d2d2d2', width: 1}},
      name: 'DIRECT SUN AIR MASS FACTOR', nameLocation: 'middle', nameGap: 50,
      nameTextStyle: {fontSize: 29, color: ink, fontFamily: FONT}
    },
    Object.assign(boxAxis('top'), {min: xTicks[0], max: xTicks[xTicks.length - 1], interval: 0.5})
  ],
  yAxis: [
    {
      type: 'value', min: yTicks[0], max: yTicks[yTicks.length - 1], interval: 20, position: 'left',
      axisLine: {show: true, onZero: false, lineStyle: {color: ink, width: 1}},
      axisTick: {show: true, inside: true, length: 6, lineStyle: {color: ink}},
      axisLabel: {fontSize: 23, color: ink, margin: 14, fontFamily: FONT},
      splitLine: {show: true, lineStyle: {color: '#d2d2d2', width: 1}},
      name: 'RELATIVE NO2 SLANT COLUMN [Pmolec/cm²]', nameLocation: 'middle', nameGap: 69,
      nameTextStyle: {fontSize: 29, color: ink, fontFamily: FONT}
    },
    Object.assign(boxAxis('right'), {min: yTicks[0], max: yTicks[yTicks.length - 1], interval: 20})
  ],
  graphic: [
    {type: 'rect', z: 15, silent: true, shape: {x: 456, y: 40, width: 484, height: 118},
     style: {fill: '#ffffff', stroke: ink, lineWidth: 1}},
    {type: 'rect', z: 16, silent: true, shape: {x: 497.5, y: 62.5, width: 5, height: 5}, style: {fill: BLUE}},
    legendText(555, 63, 'NO'),
    legendText(590, 73, '2', 21),
    legendText(611, 63, 'Relative Slant Column'),
    {type: 'circle', z: 16, silent: true, shape: {cx: 500, cy: 102, r: 8.5}, style: {fill: GREEN}},
    legendText(547, 102, nameMean),
    {type: 'line', z: 16, silent: true, shape: {x1: 463, y1: 140, x2: 540, y2: 140}, style: {stroke: RED, lineWidth: 3.5}},
    legendText(545, 140, nameFit),
    {type: 'text', z: 15, left: 140, top: 40, silent: true,
     style: {text: '2T method', fill: '#c00000', font: 'bold 48px "DejaVu Sans", sans-serif'}}
  ],
  series: [
    {name: nameScatter, type: 'scatter', data: coreData, symbol: 'rect', symbolSize: 7.5,
     itemStyle: {color: BLUE, opacity: 1}, silent: true, z: 2},
    {name: nameScatter, type: 'scatter', data: spreadData, symbol: 'rect', symbolSize: 5,
     itemStyle: {color: BLUE, opacity: 1}, silent: true, z: 2},
    {name: nameFit, type: 'line', data: fitData, symbol: 'none', showSymbol: false,
     lineStyle: {color: RED, width: 3.5}, itemStyle: {color: RED}, silent: true, z: 3},
    {name: nameMean, type: 'scatter', data: meanData, symbol: 'circle', symbolSize: 18,
     itemStyle: {color: GREEN, opacity: 1}, silent: true, z: 4}
  ]
});
</script>
</body>
</html>
